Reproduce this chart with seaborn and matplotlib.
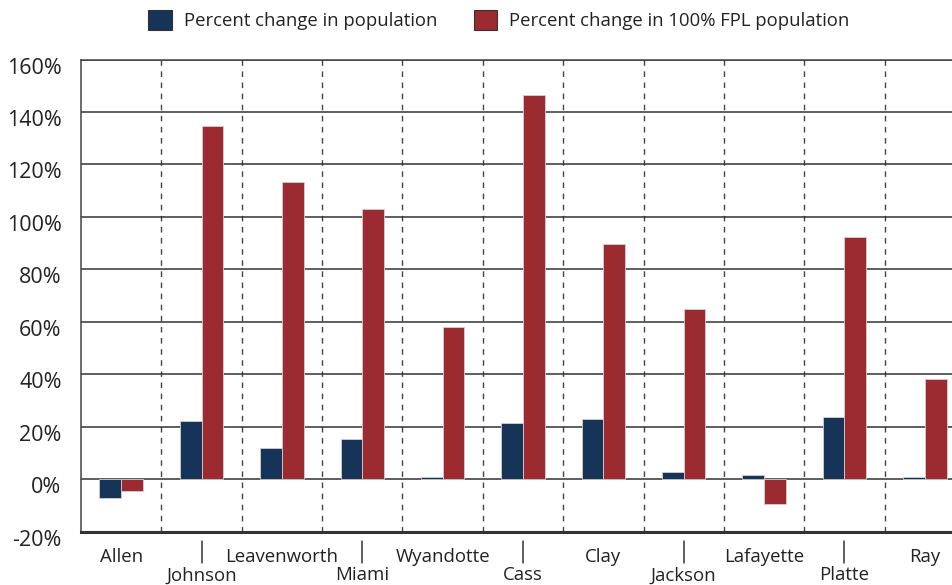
import numpy as np
import pandas as pd
import matplotlib
matplotlib.use("Agg")
import matplotlib.pyplot as plt
import matplotlib.transforms as mtransforms
import seaborn as sns

counties = ['Allen', 'Johnson', 'Leavenworth', 'Miami', 'Wyandotte', 'Cass',
            'Clay', 'Jackson', 'Lafayette', 'Platte', 'Ray']
pop_change = [-7.3, 22.3, 12.0, 15.4, 0.9, 21.5, 22.9, 2.9, 1.5, 23.7, 0.9]
fpl_change = [-4.6, 134.6, 113.2, 102.9, 57.9, 146.4, 89.6, 64.8, -9.5, 92.2, 38.1]
series_names = ['Percent change in population', 'Percent change in 100% FPL population']
colors = ['#163358', '#9B2A31']

df = pd.DataFrame({
    'county': counties * 2,
    'series': [series_names[0]] * len(counties) + [series_names[1]] * len(counties),
    'value': pop_change + fpl_change,
})

sns.set_style('white')
plt.rcParams['font.family'] = ['Open Sans', 'DejaVu Sans']

fig = plt.figure(figsize=(9.53, 5.85), dpi=100)
# axes runs off the right edge, like the cropped original
ax = fig.add_axes([81 / 953, 1 - 531.7 / 585, 884 / 953, 472.2 / 585])

sns.barplot(data=df, x='county', y='value', hue='series', palette=colors,
            width=0.54, edgecolor='#d0d0d0', linewidth=0.6, saturation=1,
            ax=ax, legend=True)

ax.set_ylim(-20, 160)
ax.set_xlim(-0.5, len(counties) - 0.5)
ax.set_yticks(range(-20, 161, 20))
ax.set_yticklabels([f'{t}%' for t in range(-20, 161, 20)])
ax.set_xlabel('')
ax.set_ylabel('')

ax.yaxis.grid(True, color='#333333', linewidth=1.1)
ax.set_axisbelow(True)
for i in range(len(counties)):
    ax.axvline(i + 0.5, color='#444444', linewidth=1, linestyle=(0, (4, 4)), zorder=0)

for s in ['left', 'top']:
    ax.spines[s].set_color('#444444')
    ax.spines[s].set_linewidth(1.1)
ax.spines['right'].set_visible(False)
ax.spines['bottom'].set_color('#333333')
ax.spines['bottom'].set_linewidth(2.2)

ax.tick_params(axis='y', length=0, pad=14, labelsize=15.5, labelcolor='#222222')
ax.tick_params(axis='x', length=0, pad=12, labelsize=13.4, labelcolor='#222222')
# y labels sit a little below their gridlines in the original
shift = mtransforms.ScaledTranslation(0, -6 / 100, fig.dpi_scale_trans)
for lab in ax.get_yticklabels():
    lab.set_transform(lab.get_transform() + shift)

ax.set_xticks(range(len(counties)))
ax.set_xticklabels(counties)
# staggered labels: every second one drops to a lower row
drop = mtransforms.ScaledTranslation(0, -18 / 100, fig.dpi_scale_trans)
for i, lab in enumerate(ax.get_xticklabels()):
    if i % 2 == 1:
        lab.set_transform(lab.get_transform() + drop)

# separator ticks under the odd (lower-row) labels
trans = ax.get_xaxis_transform()
for i in range(1, len(counties), 2):
    ax.plot([i, i], [-0.0197, -0.066], color='#333333', linewidth=1.1,
            transform=trans, clip_on=False)

leg = ax.legend(loc='center', bbox_to_anchor=((499 - 81) / 884, 1 + 39.5 / 472.2),
                ncol=2, frameon=False, fontsize=13.3, handlelength=1.25,
                handleheight=1.25, columnspacing=2.0, handletextpad=0.65)
for h in leg.legend_handles:
    h.set_edgecolor('#333333')
    h.set_linewidth(0.8)
for t in leg.get_texts():
    t.set_color('#222222')

fig.savefig('out.png', dpi=100)
